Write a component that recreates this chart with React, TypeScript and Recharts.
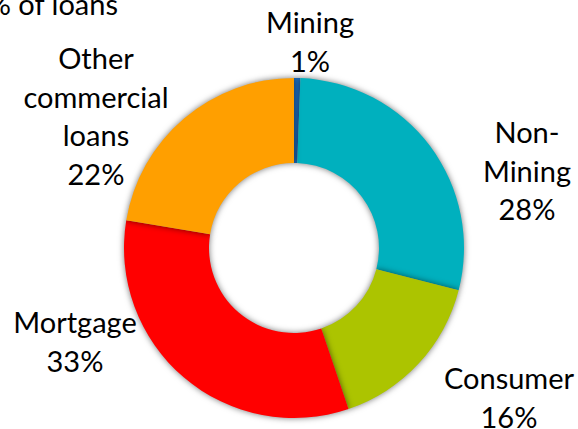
import { PieChart, Pie, Cell } from 'recharts'

const categories = ['Mining', 'Non-Mining', 'Consumer', 'Mortgage', 'Other commercial loans']
const shares = [0.6, 28.4, 15.8, 32.8, 22.4]
const labelLines = [
  ['Mining'],
  ['Non-', 'Mining'],
  ['Consumer'],
  ['Mortgage'],
  ['Other', 'commercial', 'loans'],
]
const colors = ['#1d6fc2', '#00b0be', '#acc400', '#ff0000', '#ff9f00']

// label anchors relative to the pie centre (first baseline)
const labelPos = [
  { dx: 16, dy: -215 },
  { dx: 233, dy: -105 },
  { dx: 215, dy: 141 },
  { dx: -219, dy: 85 },
  { dx: -198, dy: -179 },
]

const data = categories.map((name, i) => ({ name, value: shares[i] }))

const FONT = 'Lato, "Open Sans", sans-serif'
const LINE = 38.5

function renderLabel(props: any) {
  const { cx, cy, index, value } = props
  const pos = labelPos[index]
  const lines = [...labelLines[index], `${Math.round(value)}%`]
  return (
    <text
      key={`lbl-${index}`}
      x={cx + pos.dx}
      y={cy + pos.dy}
      textAnchor="middle"
      fontFamily={FONT}
      fontSize={29}
      fill="#000"
    >
      {lines.map((t, j) => (
        <tspan key={j} x={cx + pos.dx} y={cy + pos.dy + j * LINE}>
          {t}
        </tspan>
      ))}
    </text>
  )
}

export default function App() {
  return (
    <div style={{ position: 'absolute', left: 0, top: 0, width: 578, height: 429, background: '#fff' }}>
      <style>{`.donut .recharts-pie-sector { filter: drop-shadow(0 0 3px rgba(0,0,0,0.55)); }`}</style>
      <PieChart width={578} height={429} margin={{ top: 0, right: 0, bottom: 0, left: 0 }} className="donut">
        <text x={118} y={15} textAnchor="end" fontFamily={FONT} fontSize={29} fill="#000">
          % of loans
        </text>
        <Pie
          data={data}
          dataKey="value"
          nameKey="name"
          cx={294}
          cy={248}
          innerRadius={85}
          outerRadius={170}
          startAngle={90}
          endAngle={-270}
          stroke="none"
          label={renderLabel}
          labelLine={false}
          isAnimationActive={false}
        >
          {data.map((d, i) => (
            <Cell key={d.name} fill={colors[i]} />
          ))}
        </Pie>
      </PieChart>
    </div>
  )
}
